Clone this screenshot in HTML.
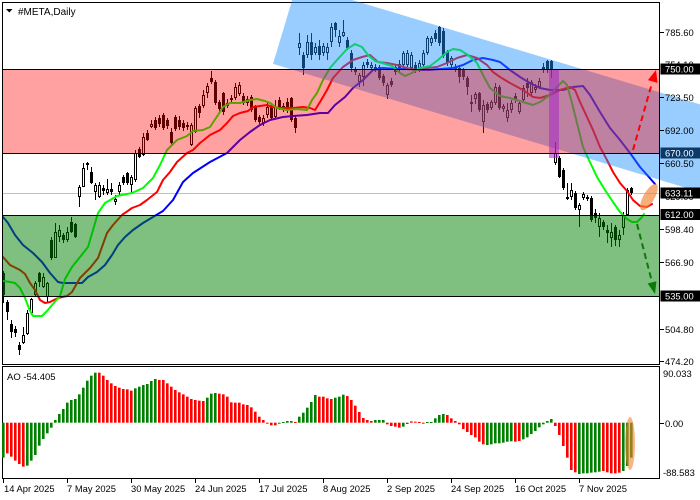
<!DOCTYPE html>
<html><head><meta charset="utf-8">
<style>
html,body{margin:0;padding:0;background:#fff;}
svg{display:block;}
</style></head>
<body>
<svg id="c" width="700" height="500" viewBox="0 0 700 500" xmlns="http://www.w3.org/2000/svg" font-family="'Liberation Sans', sans-serif">
<defs><clipPath id="mp"><rect x="3" y="3" width="657" height="361"/></clipPath></defs>
<rect width="700" height="500" fill="#fff"/>
<line x1="3" y1="193.5" x2="660" y2="193.5" stroke="#c0c0c0" stroke-width="1"/>
<g id="candles"></g>
<g clip-path="url(#mp)" fill="none" stroke-width="2" stroke-linejoin="round" stroke-linecap="round">
<polyline stroke="#0000ff" points="3,217 8,223 15,235 23,245 33,253 42,262 50,273 58,282 63,283 82,283 88,277 97,272 105,265 112,255 118,245 125,237 133,230 143,223 153,217 163,211 173,200 183,182 193,173 210,162 227,153 240,140 250,132 260,125 270,120 283,117 293,116 307,115 320,113 328,113 335,105 345,97 353,88 363,80 373,70 383,68 397,69 407,69 420,70 430,70 440,69 453,68 463,65 473,60 483,58 493,60 500,62 510,70 520,77 530,83 540,88 550,90 563,90 573,87 583,86 590,95 600,112 610,128 620,140 630,153 640,167 648,176 655,184"/>
<polyline stroke="#ff0000" points="3,257 10,265 20,270 25,274 30,283 35,290 40,300 45,303 50,302 58,298 67,296 72,292 80,278 90,268 98,258 107,233 113,225 122,215 132,208 140,205 147,200 157,192 163,180 170,172 177,162 187,153 193,150 200,143 210,135 220,130 227,123 233,116 240,113 248,111 253,107 260,106 267,105 273,107 280,108 293,108 303,107 310,108 315,110 320,102 327,90 333,78 343,67 353,60 362,57 370,55 378,62 387,63 397,65 407,68 417,70 427,68 437,67 447,63 457,58 467,55 477,58 487,65 493,72 500,77 510,83 523,90 533,97 540,98 550,95 560,90 570,87 575,90 580,102 587,117 593,130 600,147 607,160 613,172 620,183 627,191 633,200 640,206 647,207 652,204"/>
<polyline stroke="#00ff00" points="3,281 10,282 15,283 20,288 25,298 30,311 33,316 42,316 47,311 53,304 60,296 65,279 72,267 80,257 88,247 93,230 98,213 105,203 117,196 132,193 143,188 153,178 160,165 167,150 177,140 187,136 193,131 203,130 210,127 218,115 223,107 230,103 240,103 250,100 257,99 265,101 270,103 277,108 287,110 297,109 307,110 312,100 317,93 323,80 330,68 337,60 347,49 355,44 362,47 368,55 375,61 382,63 392,66 400,73 405,76 412,73 420,68 430,66 438,60 447,52 453,49 460,50 468,55 477,63 483,75 490,88 500,96 510,98 523,102 533,105 540,102 550,95 557,87 563,81 567,85 572,103 577,123 583,147 588,158 597,177 605,190 613,202 620,212 627,219 632,222 637,222 642,217 644,214"/>
</g>
<!-- frame (under channel) -->
<rect x="2.5" y="2.5" width="657" height="362" fill="none" stroke="#000" stroke-width="1"/>
<!-- channel -->
<polygon points="297.1,-16.5 720,110.4 720,198 273,63.9" fill="rgba(30,144,255,0.45)"/>
<!-- zones -->
<rect x="3" y="70" width="657" height="83" fill="rgba(255,0,0,0.37)"/>
<rect x="3" y="216" width="657" height="80" fill="rgba(0,128,0,0.5)"/>
<rect x="549" y="70" width="10" height="88" fill="rgba(170,40,200,0.55)"/>
<g stroke="#000" stroke-width="1">
<line x1="3" y1="69.5" x2="660" y2="69.5"/>
<line x1="3" y1="153.5" x2="660" y2="153.5"/>
<line x1="3" y1="215.5" x2="660" y2="215.5"/>
<line x1="3" y1="296.5" x2="660" y2="296.5"/>
<line x1="659.5" y1="2" x2="659.5" y2="365"/>
</g>
<!-- arrows -->
<line x1="633" y1="150" x2="652" y2="83" stroke="#ff0000" stroke-width="2" stroke-dasharray="6,4"/>
<polygon points="656,70 657.5,82.9 647.9,80.1" fill="#ff0000"/>
<line x1="637" y1="224" x2="652" y2="282" stroke="#0a7a0a" stroke-width="2" stroke-dasharray="6,4"/>
<polygon points="655,294 656.4,281.3 647.6,283.5" fill="#0a7a0a"/>
<ellipse cx="649" cy="197" rx="15" ry="5.5" transform="rotate(-60 649 197)" fill="rgba(245,130,50,0.65)"/>
<!-- title -->
<polygon points="6,9 12.5,9 9.25,12.5" fill="#000"/>
<text x="18" y="15" font-size="10" fill="#000">#META,Daily</text>
<!-- AO panel -->
<rect x="2.5" y="366.5" width="657" height="112" fill="none" stroke="#000" stroke-width="1"/>
<g id="ao"></g>
<ellipse cx="630" cy="443.5" rx="5" ry="26.5" fill="rgba(245,130,50,0.6)"/>
<text x="7" y="380" font-size="9.5" fill="#000">AO -54.405</text>
<!-- right axis ticks -->
<g stroke="#000" stroke-width="1">
<line x1="660" y1="32.5" x2="664" y2="32.5"/>
<line x1="660" y1="97.5" x2="664" y2="97.5"/>
<line x1="660" y1="130.5" x2="664" y2="130.5"/>
<line x1="660" y1="163.5" x2="664" y2="163.5"/>
<line x1="660" y1="229.5" x2="664" y2="229.5"/>
<line x1="660" y1="262.5" x2="664" y2="262.5"/>
<line x1="660" y1="329.5" x2="664" y2="329.5"/>
<line x1="660" y1="361.5" x2="664" y2="361.5"/>
<line x1="660" y1="423.5" x2="664" y2="423.5"/>
<line x1="3.5" y1="479" x2="3.5" y2="483"/>
<line x1="67.5" y1="479" x2="67.5" y2="483"/>
<line x1="131.5" y1="479" x2="131.5" y2="483"/>
<line x1="195.5" y1="479" x2="195.5" y2="483"/>
<line x1="259.5" y1="479" x2="259.5" y2="483"/>
<line x1="323.5" y1="479" x2="323.5" y2="483"/>
<line x1="387.5" y1="479" x2="387.5" y2="483"/>
<line x1="451.5" y1="479" x2="451.5" y2="483"/>
<line x1="515.5" y1="479" x2="515.5" y2="483"/>
<line x1="579.5" y1="479" x2="579.5" y2="483"/>
</g>
<g font-size="9.4" fill="#000">
<text x="665" y="36">785.60</text>
<text x="665" y="68">754.10</text>
<text x="665" y="101">723.50</text>
<text x="665" y="134">692.00</text>
<text x="665" y="167">660.50</text>
<text x="665" y="200">629.00</text>
<text x="665" y="233">598.40</text>
<text x="665" y="266">566.90</text>
<text x="665" y="300">535.40</text>
<text x="665" y="333">504.80</text>
<text x="665" y="365">474.20</text>
<text x="663" y="377">90.033</text>
<text x="665" y="427">0.00</text>
<text x="663" y="476">-88.583</text>
</g>
<!-- price label boxes -->
<rect x="660.5" y="63.5" width="39.5" height="11" fill="#000"/>
<text x="665" y="72.5" font-size="9.4" fill="#fff">750.00</text>
<rect x="660.5" y="147.5" width="39.5" height="11" fill="#0b3a6a"/>
<text x="665" y="156.5" font-size="9.4" fill="#fff">670.00</text>
<rect x="660.5" y="187.5" width="39.5" height="11" fill="#000"/>
<text x="665" y="196.5" font-size="9.4" fill="#fff">633.11</text>
<rect x="660.5" y="209" width="39.5" height="11" fill="#000"/>
<text x="665" y="218" font-size="9.4" fill="#fff">612.00</text>
<rect x="660.5" y="290.5" width="39.5" height="11" fill="#000"/>
<text x="665" y="299.5" font-size="9.4" fill="#fff">535.00</text>
<!-- date labels -->
<g font-size="9.4" fill="#000">
<text x="4" y="492">14 Apr 2025</text>
<text x="67" y="492">7 May 2025</text>
<text x="131" y="492">30 May 2025</text>
<text x="195" y="492">24 Jun 2025</text>
<text x="259" y="492">17 Jul 2025</text>
<text x="323" y="492">8 Aug 2025</text>
<text x="387" y="492">2 Sep 2025</text>
<text x="451" y="492">24 Sep 2025</text>
<text x="515" y="492">16 Oct 2025</text>
<text x="579" y="492">7 Nov 2025</text>
</g>
</svg>
<script>
(function(){
var NS="http://www.w3.org/2000/svg";
function el(p,tag,a){var e=document.createElementNS(NS,tag);for(var k in a)e.setAttribute(k,a[k]);p.appendChild(e);return e;}
var C=[[273,295,271,303,0],[302,312,300,320,0],[324,332,320,338,0],[329,333,326,337,0],[345,350,342,355,0],[335,343,327,344,1],[313,334,310,335,1],[299,313,298,315,1],[283,295,281,297,1],[273,282,272,287,0],
[277,287,273,288,1],[283,297,282,303,1],[240,258,237,260,0],[232,258,223,258,1],[230,237,225,242,1],[235,240,233,243,0],[232,240,227,242,1],[222,232,217,233,0],[224,237,223,238,0],[187,197,185,207,1],
[168,187,163,187,1],[163,165,162,170,0],[172,183,167,184,0],[185,192,183,200,1],[185,197,182,198,1],[188,191,185,195,0],[189,193,179,195,1],[189,192,183,195,0],[199,202,195,205,1],[185,192,182,195,1],
[177,183,175,185,0],[173,183,172,185,0],[177,185,175,193,1],[153,180,150,182,1],[149,157,147,158,0],[137,155,133,156,1],[133,140,130,141,0],[124,127,120,128,1],[120,128,117,130,0],[118,124,115,127,0],
[115,128,113,130,0],[120,126,118,129,0],[132,143,128,145,0],[117,129,115,131,0],[120,127,116,130,0],[123,128,120,131,0],[125,127,122,130,0],[125,145,123,146,1],[108,132,106,133,1],[106,113,104,118,0],
[95,106,90,108,1],[86,93,83,98,1],[78,82,71,84,0],[82,103,80,105,0],[102,109,100,112,0],[93,112,92,115,0],[103,106,99,108,1],[98,100,95,103,0],[87,98,83,100,1],[85,94,82,96,1],
[96,103,93,105,0],[99,103,96,106,1],[97,110,95,112,0],[107,120,105,122,0],[117,122,115,124,0],[118,123,115,126,1],[107,115,103,118,1],[107,118,103,120,0],[107,117,100,118,1],[100,107,97,110,0],
[106,110,103,112,0],[102,110,98,113,0],[98,120,97,122,0],[118,128,116,133,0],[43,48,33,55,1],[55,68,52,75,0],[42,55,35,58,1],[42,55,33,60,0],[47,53,43,55,1],[46,55,40,60,0],
[46,53,43,56,1],[47,53,43,60,1],[27,42,23,47,1],[23,30,22,37,0],[36,43,30,47,1],[32,36,20,37,1],[40,48,37,50,0],[53,68,50,72,0],[69,72,67,75,0],[75,82,73,87,1],
[65,77,62,86,1],[62,65,59,68,0],[65,68,62,70,1],[67,70,64,72,0],[67,78,65,80,0],[76,83,74,86,0],[85,95,83,99,1],[81,85,78,87,0],[67,72,65,75,0],[64,70,60,72,0],
[53,65,51,68,1],[53,65,50,67,1],[55,68,52,70,1],[65,70,62,73,0],[63,68,60,72,1],[53,65,50,68,1],[38,53,36,55,1],[38,43,36,46,1],[33,39,30,42,0],[27,43,26,46,0],
[31,56,28,58,0],[52,63,50,66,0],[58,65,56,68,1],[67,70,64,72,0],[68,77,66,83,0],[70,77,68,80,0],[78,87,76,95,0],[102,104,95,112,0],[94,99,92,104,1],[93,110,92,112,0],
[105,122,100,133,1],[104,110,102,113,0],[102,108,100,110,1],[87,103,83,105,1],[87,108,85,110,0],[106,109,104,112,1],[110,118,103,122,1],[103,110,100,113,1],[96,99,93,103,0],[103,112,100,114,1],
[88,100,85,102,1],[83,88,78,97,0],[82,93,80,95,1],[87,90,84,93,1],[81,87,78,89,1],[67,70,63,73,0],[61,70,60,73,0],[61,70,60,78,0],[153,163,142,165,1],[158,177,156,178,0],
[170,188,168,190,0],[197,199,183,200,0],[190,197,183,200,1],[193,208,191,210,0],[205,210,203,227,1],[194,198,192,200,1],[197,199,195,201,0],[198,220,196,222,0],[213,218,209,223,0],[218,227,213,237,1],
[222,227,220,230,0],[230,233,225,243,0],[232,238,223,247,1],[227,240,225,246,0],[235,240,230,247,1],[215,228,212,235,1],[190,215,188,216,1],[188,193,187,195,0]];
var g=document.getElementById('candles');
for(var i=0;i<C.length;i++){var c=C[i],x=3+4*i;
el(g,'rect',{x:x,y:c[2],width:1,height:Math.max(1,c[3]-c[2]),fill:'#000'});
var h=Math.max(1,c[1]-c[0]);
el(g,'rect',{x:x-1,y:c[0],width:3,height:h,fill:'#000'});
if(c[4]&&h>2)el(g,'rect',{x:x,y:c[0]+1,width:1,height:h-2,fill:'#fff'});}
var A="G293 R280 R290 R302 R312 R320 G317 G302 G285 G257 G237 G220 G203 G180 G162 G147 G128 G120 G117 G103 G83 G62 G47 G38 R38 R47 R60 R70 R78 R83 R87 R88 R92 G85 G80 G75 G72 G63 G57 R60 R60 R70 R80 R90 R97 R103 R110 R117 R120 R122 R123 G113 G101 G99 R101 R103 R110 R127 R128 R128 R133 R135 R142 R155 R170 R180 R190 R196 R196 G190 G186 G183 G183 R186 G170 G158 G143 G126 G105 R110 R110 R115 R117 G113 G110 G104 R108 R120 R137 R156 R174 R180 R183 G180 G180 G180 R193 R198 R200 R203 G200 G192 R184 R185 R186 R190 G186 G186 G175 G165 G162 R165 R175 R183 R193 R207 R216 R225 R232 R245 R253 G255 G253 G250 G250 G248 G245 G244 R245 R243 G238 G232 G222 G213 G202 G193 G183 G177 R198 R225 R258 R293 R330 R337 G342 G340 G340 G338 G337 G335 R333 R337 R340 R340 R338 G333 G318 G293".split(' ');
var ga=document.getElementById('ao'),z0=422.7;
for(var j=0;j<A.length;j++){var col=A[j][0]=='G'?'#008000':'#ff0000',y=360+parseInt(A[j].slice(1),10)/3,x2=3+4*j;
var t=Math.min(y,z0),hh=Math.max(1,Math.abs(y-z0));
el(ga,'rect',{x:x2-1,y:t,width:2.6,height:hh,fill:col});}
})();
</script>
</body></html>
